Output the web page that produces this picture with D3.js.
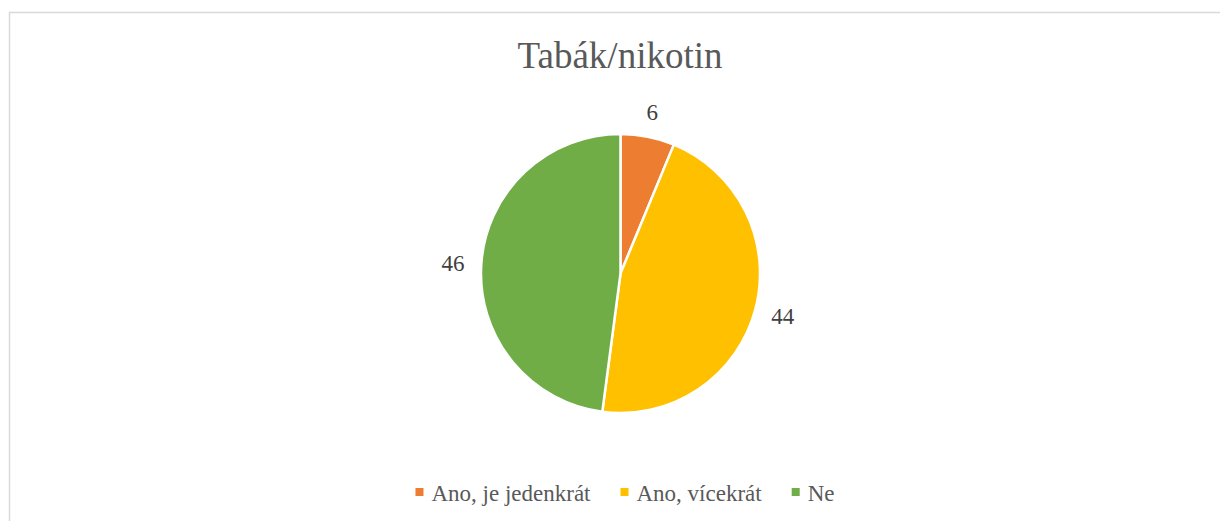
<!DOCTYPE html>
<html>
<head>
<meta charset="utf-8">
<script src="https://cdn.jsdelivr.net/npm/d3@7.9.0/dist/d3.min.js"></script>
<style>
  html, body { margin: 0; padding: 0; background: #fff; overflow: hidden; }
  svg { display: block; }
  svg text { font-family: "Liberation Serif", "Times New Roman", serif; }
</style>
</head>
<body>
<div id="chart"></div>
<script>
// Chart data
const title = 'Tabák/nikotin';
const categories = ['Ano, je jedenkrát', 'Ano, vícekrát', 'Ne'];
const values = [6, 44, 46];
const colors = ['#ED7D31', '#FFC000', '#70AD47'];

const width = 1220;
const height = 521;
const serif = '"Liberation Serif", "Times New Roman", serif';

const svg = d3.select('#chart')
    .append('svg')
    .attr('width', width)
    .attr('height', height);

// Chart frame (runs off the right and bottom edge)
svg.append('rect')
    .attr('x', 9.5)
    .attr('y', 12.5)
    .attr('width', 1400)
    .attr('height', 700)
    .attr('fill', 'none')
    .attr('stroke', '#d9d9d9')
    .attr('stroke-width', 1.5);

// Title
svg.append('text')
    .attr('x', 620)
    .attr('y', 68)
    .attr('text-anchor', 'middle')
    .attr('fill', '#595959')
    .attr('font-family', serif)
    .style('font-size', '37px')
    .text(title);

// Pie
const cx = 620.5;
const cy = 273.5;
const radius = 139.5;

const data = categories.map((c, i) => ({ name: c, value: values[i], color: colors[i] }));

const pie = d3.pie().sort(null).value((d) => d.value);
const arc = d3.arc().innerRadius(0).outerRadius(radius);
const arcs = pie(data);

const g = svg.append('g').attr('transform', `translate(${cx}, ${cy})`);

g.selectAll('path')
    .data(arcs)
    .join('path')
    .attr('d', arc)
    .attr('fill', (d) => d.data.color)
    .attr('stroke', '#fff')
    .attr('stroke-width', 2.5)
    .attr('stroke-linejoin', 'round');

// Data labels outside the slice ends
const gap = 17;
const halfGlyph = 8;
const labels = g.selectAll('text.label')
    .data(arcs)
    .join('text')
    .attr('class', 'label')
    .attr('text-anchor', 'middle')
    .attr('fill', '#404040')
    .attr('font-family', serif)
    .style('font-size', '23px')
    .text((d) => d.data.value);

labels.each(function (d) {
    const a = (d.startAngle + d.endAngle) / 2;
    const ux = Math.sin(a);
    const uy = -Math.cos(a);
    const w = this.getComputedTextLength();
    const px = (radius + gap) * ux + (w / 2) * ux;
    const py = (radius + gap) * uy + halfGlyph * uy;
    d3.select(this)
        .attr('x', px)
        .attr('y', py)
        .attr('dy', '0.35em');
});

// Legend
const legend = svg.append('g');
const legendFont = 23;
const marker = 8;
let xPos = 0;
categories.forEach((c, i) => {
    const item = legend.append('g').attr('transform', `translate(${xPos}, 0)`);
    item.append('rect')
        .attr('x', 0)
        .attr('y', -13)
        .attr('width', marker)
        .attr('height', marker)
        .attr('fill', colors[i]);
    const t = item.append('text')
        .attr('x', marker + 8)
        .attr('y', 0)
        .attr('fill', '#595959')
        .attr('font-family', serif)
        .style('font-size', legendFont + 'px')
        .text(c);
    xPos += marker + 8 + t.node().getComputedTextLength() + 30;
});
const legendWidth = xPos - 30;
legend.attr('transform', `translate(${625 - legendWidth / 2}, 501)`);
</script>
</body>
</html>
